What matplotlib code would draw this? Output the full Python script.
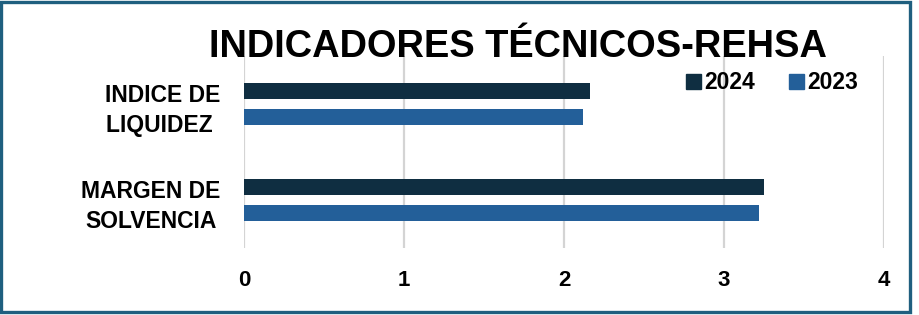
import numpy as np
import matplotlib
matplotlib.use('Agg')
import matplotlib.pyplot as plt
from matplotlib.patches import Rectangle, Patch

plt.rcParams['font.family'] = ['Liberation Sans', 'DejaVu Sans']

# ── Datos ──
categorias = ['INDICE DE\nLIQUIDEZ ', 'MARGEN DE\nSOLVENCIA']
valores_2024 = [2.16, 3.25]
valores_2023 = [2.12, 3.22]
ticks_x = [0, 1, 2, 3, 4]

color_2024 = '#0f2e41'
color_2023 = '#235f99'
color_borde = '#1f5f7f'

fig = plt.figure(figsize=(9.2, 3.15), dpi=100)
ax = fig.add_axes([244 / 920, 1 - 248 / 315, 640 / 920, 192 / 315])

y = np.arange(len(categorias))
h = 0.167
off = 0.135
ax.barh(y - off, valores_2024, height=h, color=color_2024, zorder=3, label='2024')
ax.barh(y + off, valores_2023, height=h, color=color_2023, zorder=3, label='2023')

ax.set_xlim(0, 4)
ax.set_ylim(1.5, -0.5)
ax.set_xticks(ticks_x)
ax.set_xticklabels([str(t) for t in ticks_x], fontsize=16, fontweight='bold')
ax.set_yticks(y)
ax.set_yticklabels(categorias, fontsize=16.5, fontweight='bold',
                   multialignment='center', linespacing=1.42)
ax.tick_params(axis='both', length=0)
ax.tick_params(axis='x', pad=16)
ax.tick_params(axis='y', pad=17)
ax.grid(axis='x', color='#d4d4d4', linewidth=1.6, zorder=0)
for s in ax.spines.values():
    s.set_visible(False)

fig.text(518 / 920, 1 - 47 / 315, 'INDICADORES TÉCNICOS-REHSA', ha='center', va='center',
         fontsize=27.4, fontweight='bold')

handles = [Patch(color=color_2024, label='2024'), Patch(color=color_2023, label='2023')]
fig.legend(handles=handles, loc='center', bbox_to_anchor=(772 / 920, 1 - 83 / 315),
           ncol=2, frameon=False, prop={'weight': 'bold', 'size': 16.5},
           handlelength=0.63, handleheight=0.63, handletextpad=0.15, columnspacing=1.5)

# marco exterior
fig.patches.append(Rectangle((1.5 / 920, 3.5 / 315), 909 / 920, 310 / 315,
                             transform=fig.transFigure, fill=False,
                             edgecolor=color_borde, linewidth=2.4))

fig.savefig('out.png', dpi=100)
